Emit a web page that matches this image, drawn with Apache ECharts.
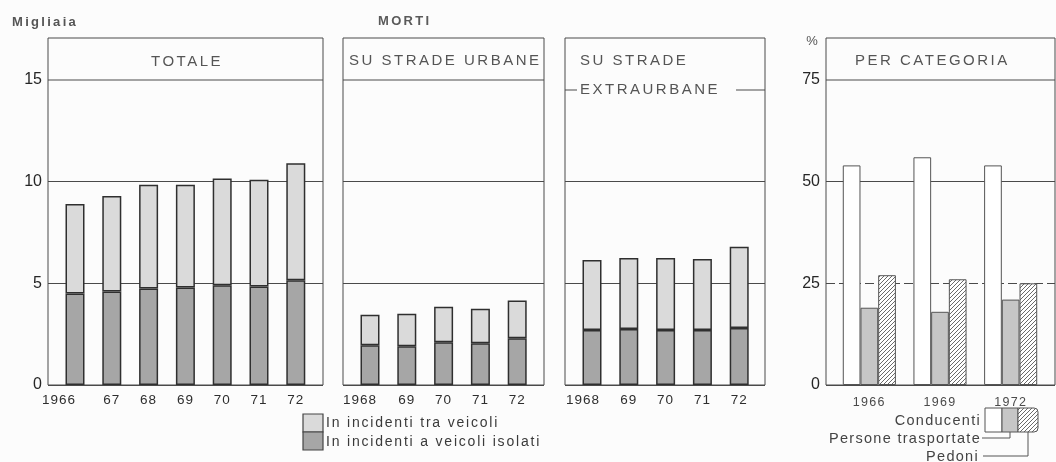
<!DOCTYPE html>
<html>
<head>
<meta charset="utf-8">
<script src="https://cdn.jsdelivr.net/npm/echarts@6/dist/echarts.min.js"></script>
<style>
  html, body { margin: 0; padding: 0; background: #fcfcfc; }
  #chart { width: 1056px; height: 462px; }
</style>
</head>
<body>
<div id="chart"></div>
<script>
// Morti per incidenti stradali: migliaia (totale, urbane, extraurbane) e % per categoria

const anniTotale = ['1966', '67', '68', '69', '70', '71', '72'];
const totaleIsolati = [4.5, 4.6, 4.75, 4.8, 4.9, 4.85, 5.15];
const totaleTraVeicoli = [4.4, 4.7, 5.1, 5.05, 5.25, 5.25, 5.75];

const anniStrade = ['1968', '69', '70', '71', '72'];
const urbaneIsolati = [1.95, 1.9, 2.1, 2.05, 2.3];
const urbaneTraVeicoli = [1.5, 1.6, 1.75, 1.7, 1.85];
const extraIsolati = [2.7, 2.75, 2.7, 2.7, 2.8];
const extraTraVeicoli = [3.45, 3.5, 3.55, 3.5, 4.0];

const anniCategoria = ['1966', '1969', '1972'];
const conducenti = [54, 56, 54];
const personeTrasportate = [19, 18, 21];
const pedoni = [27, 26, 25];

const scalaMigliaia = { min: 0, max: 15, step: 5 };
const scalaPercento = { min: 0, max: 75, step: 25 };

// ---- lettering: wide tracking like the printed original ----
function trackingFor(font) {
  const m = /([\d.]+)px/.exec(font);
  if (!m) return '0px';
  const size = parseFloat(m[1]);
  if (/bold|[6-9]00/.test(font)) return '2.3px';
  if (size === 15) return '2.5px';      // panel titles
  if (size === 14) return '1.8px';      // legend
  if (size === 13.5) return '1px';      // year labels
  if (size === 12.5) return '1.3px';    // category years
  if (size === 14.5) return '1.3px';    // category legend
  return '0px';
}
(function () {
  const proto = CanvasRenderingContext2D.prototype;
  const desc = Object.getOwnPropertyDescriptor(proto, 'font');
  if (desc && 'letterSpacing' in proto) {
    Object.defineProperty(proto, 'font', {
      configurable: true,
      get() { return desc.get.call(this); },
      set(v) { desc.set.call(this, v); this.letterSpacing = trackingFor(v); }
    });
  }
})();

const FONT = "'Liberation Sans', Arial, Helvetica, sans-serif";
const INK = '#4a4a4a';
const LIGHT = '#dadada';
const DARK = '#a6a6a6';
const MID = '#c6c6c6';

// panel frames (outer box) and the inner band area holding the bars
const TOP = 80, BOTTOM = 385, BOX_TOP = 38;
const panels = [
  { left: 48,  width: 275, sep: 80, inner: 8.6, n: 7 },
  { left: 343, width: 201, sep: 80, inner: 8.6, n: 5 },
  { left: 565, width: 200, sep: 90, inner: 8.6, n: 5 },
  { left: 826, width: 229, sep: 80, inner: 8,   n: 3 }
];

function hatchPattern() {
  const c = document.createElement('canvas');
  c.width = c.height = 4;
  const g = c.getContext('2d');
  g.fillStyle = '#ffffff';
  g.fillRect(0, 0, 4, 4);
  g.strokeStyle = '#6a6a6a';
  g.lineWidth = 1;
  g.beginPath();
  g.moveTo(0, 4); g.lineTo(4, 0);
  g.moveTo(-1, 1); g.lineTo(1, -1);
  g.moveTo(3, 5); g.lineTo(5, 3);
  g.stroke();
  return c;
}

const grids = [];
panels.forEach(p => grids.push({ left: p.left, top: TOP, width: p.width, height: BOTTOM - TOP, outerBoundsMode: 'none', containLabel: false }));
panels.forEach((p, i) => {
  const w = i === 3 ? 212 : p.n * 36.8;
  grids.push({ left: p.left + p.inner, top: TOP, width: w, height: BOTTOM - TOP, outerBoundsMode: 'none', containLabel: false });
});

const hidden = { show: false };

// frame axes (0-3): hidden x, y carries split lines and tick labels
const xAxes = panels.map((p, i) => ({ type: 'value', gridIndex: i, min: 0, max: 1, show: false }));
function frameY(i, scale, showLabels, dashed) {
  return {
    type: 'value', gridIndex: i, min: scale.min, max: scale.max, interval: scale.step,
    axisLine: hidden, axisTick: hidden,
    axisLabel: { show: showLabels, margin: 6, fontSize: 16, color: '#262626', fontFamily: FONT },
    splitLine: { show: true, showMaxLine: false, lineStyle: { color: INK, width: 1, type: dashed ? [9, 4] : 'solid' } }
  };
}
const yAxes = [
  frameY(0, scalaMigliaia, true, false),
  frameY(1, scalaMigliaia, false, false),
  frameY(2, scalaMigliaia, false, false),
  frameY(3, scalaPercento, true, true)
];

// category axes (4-7)
function yearAxis(gi, data, firstPad, size, margin, color) {
  return {
    type: 'category', gridIndex: gi, data: data,
    axisLine: hidden, axisTick: hidden,
    axisLabel: {
      interval: 0, margin: margin, fontSize: size, color: color, fontFamily: FONT,
      formatter: (v, idx) => (idx === 0 && firstPad ? '{first|' + v + '}' : v),
      rich: { first: { fontSize: size, color: color, fontFamily: FONT, padding: [0, firstPad, 0, 0] } }
    }
  };
}
xAxes.push(yearAxis(4, anniTotale, 32, 13.5, 8, '#2e2e2e'));
xAxes.push(yearAxis(5, anniStrade, 20, 13.5, 8, '#2e2e2e'));
xAxes.push(yearAxis(6, anniStrade, 18, 13.5, 8, '#2e2e2e'));
xAxes.push(yearAxis(7, anniCategoria, 0, 12.5, 10, '#4a4a4a'));

[scalaMigliaia, scalaMigliaia, scalaMigliaia, scalaPercento].forEach((s, i) => {
  yAxes.push({ type: 'value', gridIndex: 4 + i, min: s.min, max: s.max, show: false });
});
// solid 50% line in the category panel
yAxes.push({
  type: 'value', gridIndex: 3, min: 0, max: 75, interval: 50, position: 'left',
  axisLine: hidden, axisTick: hidden, axisLabel: hidden,
  splitLine: { show: true, showMaxLine: false, lineStyle: { color: INK, width: 1 } }
});

function stacked(name, axis, stack, data, color) {
  return {
    name: name, type: 'bar', xAxisIndex: axis, yAxisIndex: axis, stack: stack,
    data: data, barWidth: 19,
    itemStyle: { color: color, borderColor: '#2f2f2f', borderWidth: 1.5 }
  };
}
const NAME_TRA = 'In incidenti tra veicoli';
const NAME_ISO = 'In incidenti a veicoli isolati';

const series = [
  stacked(NAME_ISO, 4, 'totale', totaleIsolati, DARK),
  stacked(NAME_TRA, 4, 'totale', totaleTraVeicoli, LIGHT),
  stacked(NAME_ISO, 5, 'urbane', urbaneIsolati, DARK),
  stacked(NAME_TRA, 5, 'urbane', urbaneTraVeicoli, LIGHT),
  stacked(NAME_ISO, 6, 'extra', extraIsolati, DARK),
  stacked(NAME_TRA, 6, 'extra', extraTraVeicoli, LIGHT)
];
const hatch = { image: hatchPattern(), repeat: 'repeat' };
[['Conducenti', conducenti, '#ffffff'],
 ['Persone trasportate', personeTrasportate, MID],
 ['Pedoni', pedoni, hatch]].forEach(([name, data, color]) => {
  series.push({
    name: name, type: 'bar', xAxisIndex: 7, yAxisIndex: 7, data: data,
    barWidth: 17.7, barGap: '0%',
    itemStyle: { color: color, borderColor: '#555', borderWidth: 1 }
  });
});

// ---- frames, titles, legends ----
const elements = [];
panels.forEach(p => {
  elements.push({ type: 'rect', z: 1, shape: { x: p.left, y: BOX_TOP, width: p.width, height: BOTTOM - BOX_TOP },
    style: { fill: null, stroke: INK, lineWidth: 1 } });
  elements.push({ type: 'line', z: 1, shape: { x1: p.left, y1: p.sep, x2: p.left + p.width, y2: p.sep },
    style: { stroke: INK, lineWidth: 1 } });
});
function txt(text, x, y, opts) {
  return Object.assign({ type: 'text', z: 10, x: x, y: y,
    style: Object.assign({ text: text, fill: '#555', fontSize: 15, fontFamily: FONT,
      textAlign: 'left', textVerticalAlign: 'middle' }, opts || {}) });
}
elements.push(txt('Migliaia', 12, 22, { fontSize: 13, fontWeight: 'bold', fill: '#555' }));
elements.push(txt('MORTI', 378, 21, { fontSize: 13, fontWeight: 'bold', fill: '#5a5a5a' }));
elements.push(txt('%', 812, 41, { fontSize: 13, fill: '#555', textAlign: 'center' }));
elements.push(txt('TOTALE', 187, 62, { textAlign: 'center' }));
elements.push(txt('SU STRADE URBANE', 349, 61));
elements.push(txt('SU STRADE', 580, 61));
elements.push(txt('EXTRAURBANE', 577, 90, { backgroundColor: '#fcfcfc', padding: [1, 16, 1, 3] }));
elements.push(txt('PER CATEGORIA', 855, 61));

// legend for the three thousands panels
elements.push({ type: 'rect', z: 5, shape: { x: 303, y: 414, width: 20, height: 18 }, style: { fill: LIGHT, stroke: '#444', lineWidth: 1.2 } });
elements.push({ type: 'rect', z: 5, shape: { x: 303, y: 432, width: 20, height: 18 }, style: { fill: DARK, stroke: '#444', lineWidth: 1.2 } });
elements.push(txt(NAME_TRA, 326, 423, { fontSize: 14, fill: '#3a3a3a' }));
elements.push(txt(NAME_ISO, 326, 442, { fontSize: 14, fill: '#3a3a3a' }));

// legend for the category panel
elements.push({ type: 'rect', z: 5, shape: { x: 985, y: 408, width: 17, height: 24 }, style: { fill: '#ffffff', stroke: '#555', lineWidth: 1 } });
elements.push({ type: 'rect', z: 5, shape: { x: 1002, y: 408, width: 16, height: 24 }, style: { fill: MID, stroke: '#555', lineWidth: 1 } });
elements.push({ type: 'rect', z: 5, shape: { x: 1018, y: 408, width: 20, height: 24, r: [0, 4, 4, 0] }, style: { fill: hatch, stroke: '#555', lineWidth: 1 } });
elements.push(txt('Conducenti', 981, 421, { fontSize: 14.5, fill: '#444', textAlign: 'right' }));
elements.push(txt('Persone trasportate', 981, 439, { fontSize: 14.5, fill: '#444', textAlign: 'right' }));
elements.push(txt('Pedoni', 979, 457, { fontSize: 14.5, fill: '#444', textAlign: 'right' }));
elements.push({ type: 'polyline', z: 5, shape: { points: [[982, 438], [1010, 438], [1010, 432]] }, style: { fill: null, stroke: '#555', lineWidth: 1 } });
elements.push({ type: 'polyline', z: 5, shape: { points: [[983, 456], [1028, 456], [1028, 432]] }, style: { fill: null, stroke: '#555', lineWidth: 1 } });

const chart = echarts.init(document.getElementById('chart'), null, { renderer: 'canvas' });
chart.setOption({
  animation: false,
  backgroundColor: '#fcfcfc',
  textStyle: { fontFamily: FONT },
  grid: grids,
  xAxis: xAxes,
  yAxis: yAxes,
  series: series,
  graphic: { elements: elements }
});
</script>
</body>
</html>
